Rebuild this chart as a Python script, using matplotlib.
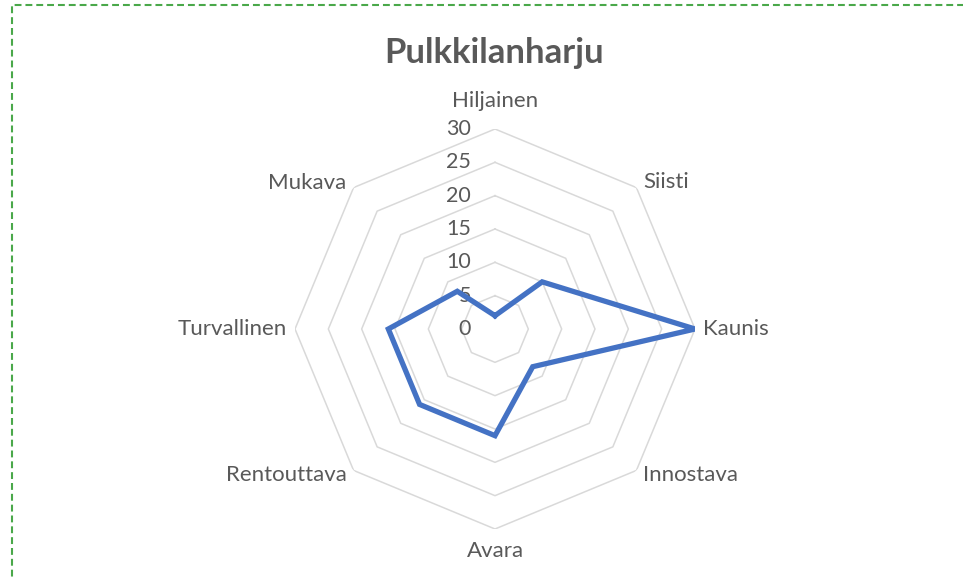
import matplotlib
matplotlib.use("Agg")
import matplotlib.pyplot as plt
import numpy as np
from matplotlib.patches import Rectangle

plt.rcParams['font.family'] = ['Lato', 'DejaVu Sans']

title = "Pulkkilanharju"
categories = ["Hiljainen", "Siisti", "Kaunis", "Innostava", "Avara",
              "Rentouttava", "Turvallinen", "Mukava"]
values = [2, 10, 30, 8, 16, 16, 16, 8]
ticks = [0, 5, 10, 15, 20, 25, 30]

txt = '#595959'
n = len(categories)
angles = np.linspace(0, 2 * np.pi, n, endpoint=False)
closed = np.append(angles, angles[0])

fig = plt.figure(figsize=(9.63, 5.78), dpi=100)
ax = fig.add_axes([295 / 963, 49 / 578, 400 / 963, 400 / 578], projection='polar')
ax.set_theta_zero_location('N')
ax.set_theta_direction(-1)
ax.set_ylim(0, 30)
ax.grid(False)
ax.spines['polar'].set_visible(False)
ax.set_xticks([])
ax.set_yticks([])
ax.patch.set_alpha(0)

# octagon rings
for t in ticks[1:]:
    ax.plot(closed, [t] * (n + 1), color='#d9d9d9', lw=1.1, zorder=1)

ax.plot(closed, values + values[:1], color='#4472C4', lw=3.8,
        solid_joinstyle='miter', zorder=3)

# radial tick labels
for t in ticks:
    ax.annotate(str(t), (0, t), xytext=(-24, 0), textcoords='offset pixels',
                ha='right', va='center', fontsize=15.5, color=txt, zorder=2)

# category labels
offsets = [(0, 28, 'center'), (7, 6, 'left'), (8, 0, 'left'), (7, -5, 'left'),
           (0, -22, 'center'), (-7, -5, 'right'), (-8, 0, 'right'), (-7, 5, 'right')]
for a, c, (dx, dy, ha) in zip(angles, categories, offsets):
    ax.annotate(c, (a, 30), xytext=(dx, dy), textcoords='offset pixels',
                ha=ha, va='center', fontsize=16, color=txt)

fig.text(494 / 963, 1 - 53 / 578, title, ha='center', va='center',
         fontsize=25, fontweight='bold', color=txt)

# dashed frame (runs off the right and bottom edges)
fig.patches.append(Rectangle((12 / 963, -0.1), 1.2, 1 - 5 / 578 + 0.1,
                             transform=fig.transFigure, fill=False,
                             edgecolor='#4aa84a', lw=1.5, linestyle=(0, (3.3, 1.9))))

fig.savefig("out.png", dpi=100)
